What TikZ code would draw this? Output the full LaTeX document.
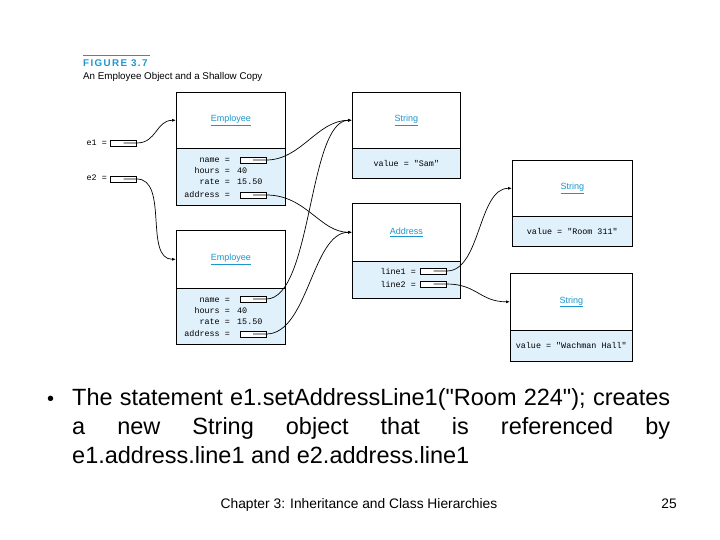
\documentclass[tikz,border=0pt]{standalone}
\usepackage{fontspec}
\setmainfont{Liberation Sans}[Ligatures=TeXOff]
\setmonofont{Liberation Mono}
\newfontfamily\headfont[LetterSpace=14]{Liberation Sans}
\usetikzlibrary{arrows.meta}

\definecolor{fieldblue}{RGB}{224,241,251}
\definecolor{clscyan}{RGB}{28,150,205}

\tikzset{
  objtop/.style={draw, fill=white, line width=0.6pt, anchor=north west,
    inner sep=0pt, minimum width=#1},
  objbot/.style={draw, fill=fieldblue, line width=0.6pt, anchor=north west,
    inner sep=0pt, minimum width=#1},
  clslabel/.style={font=\fontsize{9}{10}\selectfont, text=clscyan},
  field/.style={font=\ttfamily\fontsize{8.4}{9}\selectfont, inner sep=0pt},
  ptr/.style={draw, fill=white, line width=0.6pt, inner sep=0pt,
    minimum width=26pt, minimum height=6pt},
  ref/.style={line width=0.7pt, -{Latex[length=4pt,width=3pt]}},
}

\newcommand{\cls}[1]{\textcolor{clscyan}{\underline{#1}}}

\begin{document}
\begin{tikzpicture}[x=1pt,y=-1pt]
  \useasboundingbox (0,0) rectangle (720,540);

  % heading
  \draw[clscyan, line width=0.8pt] (83,55) -- (150,55);
  \node[anchor=base west, inner sep=0pt, text=clscyan,
    font=\headfont\bfseries\fontsize{9.8}{10}\selectfont] (fighead) at (83,67) {FIGURE 3.7};
  \node[anchor=base west, inner sep=0pt, font=\fontsize{9.8}{10}\selectfont]
    (figcap) at (83,80) {An Employee Object and a Shallow Copy};

  % objects
  \node[objtop=109pt, minimum height=56pt] (emp1) at (176,92) {};
  \node[objbot=109pt, minimum height=57pt] (emp1f) at (176,148) {};
  \node[objtop=109pt, minimum height=58pt] (emp2) at (176,230) {};
  \node[objbot=109pt, minimum height=56pt] (emp2f) at (176,288) {};
  \node[objtop=108pt, minimum height=56pt] (sam) at (352,92) {};
  \node[objbot=108pt, minimum height=30pt] (samf) at (352,148) {};
  \node[objtop=108pt, minimum height=58pt] (addr) at (352,203) {};
  \node[objbot=108pt, minimum height=37pt] (addrf) at (352,261) {};
  \node[objtop=120pt, minimum height=56pt] (room) at (512,160) {};
  \node[objbot=120pt, minimum height=30pt] (roomf) at (512,216) {};
  \node[objtop=122pt, minimum height=57pt] (wach) at (510,273) {};
  \node[objbot=122pt, minimum height=31pt] (wachf) at (510,330) {};
  \foreach \b in {emp1f,emp2f,samf,addrf,roomf,wachf}
    \draw[line width=1.3pt] (\b.south west) -- (\b.south east);

  % class names
  \node[clslabel] (emp1lbl) at (emp1) {\cls{Employee}};
  \node[clslabel] (emp2lbl) at (emp2) {\cls{Employee}};
  \node[clslabel] (samlbl) at (sam) {\cls{String}};
  \node[clslabel] (addrlbl) at (addr) {\cls{Address}};
  \node[clslabel] (roomlbl) at (room) {\cls{String}};
  \node[clslabel] (wachlbl) at (wach) {\cls{String}};

  % fields
  \foreach \n/\y in {1/0, 2/139} {
    \node[field, anchor=base east] (emp\n name) at (230,163+\y) {name =};
    \node[field, anchor=base east] (emp\n hours) at (230,174+\y) {hours =};
    \node[field, anchor=base west] (emp\n hv) at (237,174+\y) {40};
    \node[field, anchor=base east] (emp\n rate) at (230,185+\y) {rate =};
    \node[field, anchor=base west] (emp\n rv) at (237,185+\y) {15.50};
    \node[field, anchor=base east] (emp\n addr) at (230,197+\y) {address =};
  }
  \node[field] (samval) at (samf) {value = "Sam"};
  \node[field] (roomval) at (roomf) {value = "Room 311"};
  \node[field] (wachval) at (wachf) {value = "Wachman Hall"};
  \node[field, anchor=east] (line1lbl) at (416,271) {line1 =};
  \node[field, anchor=east] (line2lbl) at (416,284) {line2 =};
  \node[field, anchor=east] (e1lbl) at (107,143) {e1 =};
  \node[field, anchor=east] (e2lbl) at (107,178) {e2 =};

  % pointer boxes
  \node[ptr] (e1ptr) at (123.5,143) {};
  \node[ptr] (e2ptr) at (123.5,179) {};
  \node[ptr] (n1ptr) at (253,160) {};
  \node[ptr] (a1ptr) at (253,195) {};
  \node[ptr] (n2ptr) at (253,299) {};
  \node[ptr] (a2ptr) at (253,334) {};
  \node[ptr] (l1ptr) at (433.5,271) {};
  \node[ptr] (l2ptr) at (433.5,284) {};

  % references
  \draw[ref] (e1ptr.center) -- (e1ptr.east) .. controls +(20,0) and +(-20,0) .. (emp1.west);
  \draw[ref] (e2ptr.center) -- (e2ptr.east) .. controls +(32,0) and +(-32,0) .. (emp2.west);
  \draw[ref] (n1ptr.center) -- (n1ptr.east) .. controls +(35,0) and +(-35,0) .. (sam.west);
  \draw[ref] (a1ptr.center) -- (a1ptr.east) .. controls +(40,0) and +(-32,0) .. (addr.west);
  \draw[ref] (n2ptr.center) -- (n2ptr.east) .. controls +(46,0) and +(-44,0) .. (sam.west);
  \draw[ref] (a2ptr.center) -- (a2ptr.east) .. controls +(42,0) and +(-40,0) .. (addr.west);
  \draw[ref] (l1ptr.center) -- (l1ptr.east) .. controls +(34,0) and +(-34,0) .. (room.west);
  \draw[ref] (l2ptr.center) -- (l2ptr.east) .. controls +(30,0) and +(-30,0) .. (wach.west);

  % bullet text
  \node[anchor=base west, inner sep=0pt, font=\fontsize{20}{29}\selectfont]
    (dot) at (47,405) {•};
  \node[anchor=base west, inner sep=0pt, text width=598pt, align=justify,
    font=\fontsize{23.5}{29}\selectfont] (stmt) at (72,405)
    {The statement e1.setAddressLine1("Room 224"); creates\linebreak
     a new String object that is referenced by\linebreak
     e1.address.line1 and e2.address.line1};

  % footer
  \node[anchor=base, inner sep=0pt, font=\fontsize{13.8}{15}\selectfont]
    (footer) at (359,508) {Chapter 3: Inheritance and Class Hierarchies};
  \node[anchor=base east, inner sep=0pt, font=\fontsize{13.8}{15}\selectfont]
    (pagenum) at (677,508) {25};
\end{tikzpicture}
\end{document}
